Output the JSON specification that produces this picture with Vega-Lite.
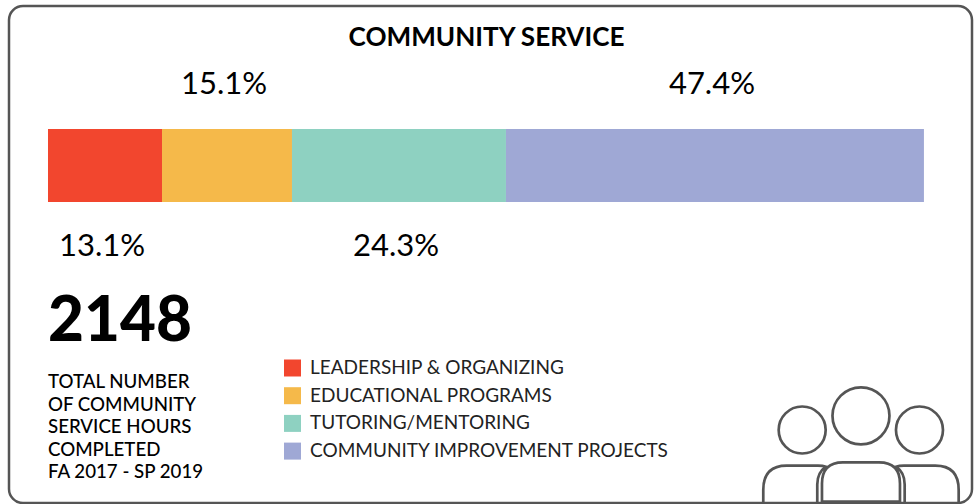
{
"$schema":"https://vega.github.io/schema/vega-lite/v6.json",
"width":975,"height":504,
"autosize":{"type":"fit","contains":"padding"},
"padding":{"left":9,"top":6,"right":3,"bottom":1},
"background":"white",
"config":{"view":{"stroke":"#555555","strokeWidth":2.5,"cornerRadius":14,"fill":null},"text":{"font":"Lato","color":"#000000"}},
"layer":[
{"data":{"values":[
{"program":"LEADERSHIP & ORGANIZING","barShare":13.0,"shareLabel":"13.1%","order":1,"row":"bar","labelRow":"below"},
{"program":"EDUCATIONAL PROGRAMS","barShare":14.82,"shareLabel":"15.1%","order":2,"row":"bar","labelRow":"above"},
{"program":"TUTORING/MENTORING","barShare":24.4,"shareLabel":"24.3%","order":3,"row":"bar","labelRow":"below"},
{"program":"COMMUNITY IMPROVEMENT PROJECTS","barShare":47.66,"shareLabel":"47.4%","order":4,"row":"bar","labelRow":"above"}
]},
"transform":[
{"stack":"barShare","sort":[{"field":"order","order":"ascending"}],"as":["start","end"]},
{"calculate":"(datum.start+datum.end)/2","as":"mid"}
],
"layer":[
{"mark":{"type":"bar"},
"encoding":{
"x":{"field":"start","type":"quantitative","axis":null,"scale":{"domain":[-4.447,105.36],"nice":false,"zero":false}},
"x2":{"field":"end"},
"y":{"field":"row","type":"nominal","axis":null,"sort":null,"scale":{"type":"band","domain":["title","above","bar","below","total","caption","footer"],"range":[-23,488],"paddingInner":0,"paddingOuter":0}},
"color":{"field":"program","type":"nominal","sort":null,
"scale":{"domain":["LEADERSHIP & ORGANIZING","EDUCATIONAL PROGRAMS","TUTORING/MENTORING","COMMUNITY IMPROVEMENT PROJECTS"],"range":["#F2462E","#F5B94A","#8ED1C1","#9FA8D5"]},
"legend":{"title":null,"orient":"none","legendX":274,"legendY":352.5,"symbolType":"square","symbolSize":289,"symbolStrokeWidth":0,"symbolOpacity":1,"labelFont":"Lato","labelFontSize":19,"labelColor":"#222222","labelLimit":500,"rowPadding":7.7,"labelOffset":8}}
}},
{"transform":[{"filter":"datum.labelRow==='above'"}],
"mark":{"type":"text","fontSize":31,"dx":-3,"dy":-7.5},
"encoding":{"x":{"field":"mid","type":"quantitative"},"y":{"field":"labelRow","type":"nominal","sort":null,"scale":{"type":"band"}},"text":{"field":"shareLabel"}}},
{"transform":[{"filter":"datum.labelRow==='below'"}],
"mark":{"type":"text","fontSize":31,"dx":-3,"dy":8.5},
"encoding":{"x":{"field":"mid","type":"quantitative"},"y":{"field":"labelRow","type":"nominal","sort":null,"scale":{"type":"band"}},"text":{"field":"shareLabel"}}}
]},
{"data":{"values":[{"row":"title","label":"COMMUNITY SERVICE"}]},
"mark":{"type":"text","fontSize":26.1,"fontWeight":"bold","dy":18,"align":"center"},
"encoding":{"x":{"datum":50,"type":"quantitative"},"y":{"field":"row","type":"nominal","sort":null,"scale":{"type":"band"}},"text":{"field":"label"}}},
{"data":{"values":[{"row":"total","hours":2148}]},
"mark":{"type":"text","fontSize":62,"fontWeight":900,"dy":10.5,"align":"left"},
"encoding":{"x":{"datum":0,"type":"quantitative"},"y":{"field":"row","type":"nominal","sort":null,"scale":{"type":"band"}},"text":{"field":"hours","type":"quantitative","format":"d"}}},
{"data":{"values":[{"row":"caption","label":"TOTAL NUMBER\nOF COMMUNITY\nSERVICE HOURS\nCOMPLETED\nFA 2017 - SP 2019"}]},
"mark":{"type":"text","fontSize":18.7,"fontWeight":500,"lineBreak":"\n","lineHeight":22.5,"align":"left","baseline":"top","dy":-11.5},
"encoding":{"x":{"datum":0,"type":"quantitative"},"y":{"field":"row","type":"nominal","sort":null,"scale":{"type":"band"}},"text":{"field":"label"}}},
{"data":{"values":[{"row":"footer","icon":"people"}]},
"mark":{"type":"point","filled":false,"size":4,"stroke":"#555555","strokeWidth":2.7,"opacity":1,
"shape":"M0,-70.2 A28.5,28.5 0 1,1 0,-13.2 A28.5,28.5 0 1,1 0,-70.2 Z M-58.8,-51 A23.5,23.5 0 1,1 -58.8,-4 A23.5,23.5 0 1,1 -58.8,-51 Z M58.5,-51 A23.5,23.5 0 1,1 58.5,-4 A23.5,23.5 0 1,1 58.5,-51 Z M-39,44.2 L-39,26 Q-39,4.8 -18,4.8 L18,4.8 Q39,4.8 39,26 L39,44.2 Z M-97.7,45.8 L-97.7,32.5 Q-97.7,8.2 -74.3,8.2 L-43,8.2 Q-38,8.2 -35,9.2 Q-43.7,15 -43.7,27 L-43.7,45.8 M97.7,45.8 L97.7,32.5 Q97.7,8.2 74.3,8.2 L43,8.2 Q38,8.2 35,9.2 Q43.7,15 43.7,27 L43.7,45.8"},
"encoding":{"x":{"datum":92.7,"type":"quantitative"},"y":{"field":"row","type":"nominal","sort":null,"scale":{"type":"band"}}}}
]
}
